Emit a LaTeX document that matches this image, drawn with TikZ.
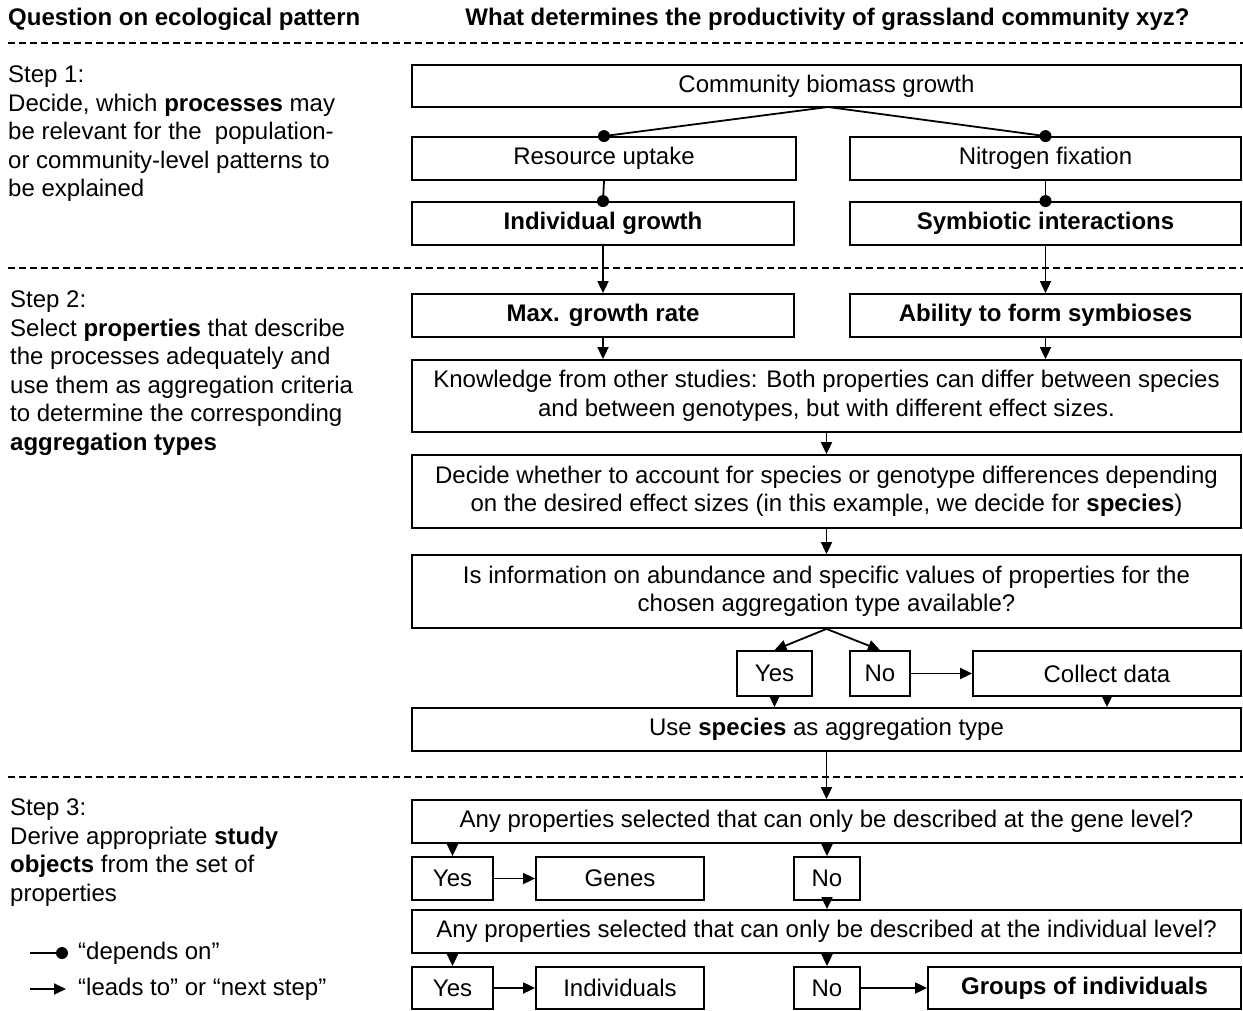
\documentclass[tikz,border=0pt]{standalone}
\usepackage{fontspec}
\setmainfont{Liberation Sans}
\usetikzlibrary{arrows.meta}
\newcommand\fsz{\fontsize{24}{28.5}\selectfont}
\begin{document}
\begin{tikzpicture}[x=1pt,y=-1pt,
  bx/.style={draw, line width=1.8pt, inner sep=0pt, align=center, font=\fsz},
  lefttext/.style={anchor=north west, inner sep=0pt, align=left, font=\fsz},
  arr/.style={line width=1.8pt, -{Triangle[length=12pt,width=11pt]}},
  dep/.style={line width=1.8pt},
  dotc/.style={fill=black},
  sepline/.style={line width=1.3pt, dash pattern=on 7pt off 4pt}]
\useasboundingbox (0,0) rectangle (1243,1011);
\fill[white] (0,0) rectangle (1243,1011);

% headers
\node[anchor=base west, inner sep=0pt, font=\bfseries\fsz] (h1) at (8,26) {Question on ecological pattern};
\node[anchor=base, inner sep=0pt, font=\bfseries\fsz] (h2) at (827.5,26) {What determines the productivity of grassland community xyz?};

% separators
\coordinate (s1a) at (8,43); \coordinate (s1b) at (1243,43);
\coordinate (s2a) at (8,268); \coordinate (s2b) at (1243,268);
\coordinate (s3a) at (8,777); \coordinate (s3b) at (1243,777);
\draw[sepline] (s1a) -- (s1b);
\draw[sepline] (s2a) -- (s2b);
\draw[sepline] (s3a) -- (s3b);

% left texts
\node[lefttext] (t1) at (8,66) {Step 1:\\Decide, which \textbf{processes} may\\be relevant for the \ population-\\or community-level patterns to\\be explained};
\node[lefttext] (t2) at (10,291) {Step 2:\\Select \textbf{properties} that describe\\the processes adequately and\\use them as aggregation criteria\\to determine the corresponding\\\textbf{aggregation types}};
\node[lefttext] (t3) at (10,799) {Step 3:\\Derive appropriate \textbf{study}\\\textbf{objects} from the set of\\properties};

% boxes
\node[bx, minimum width=829pt, minimum height=42pt] (comm) at (826.5,86) {Community biomass growth};
\node[bx, minimum width=384pt, minimum height=43pt] (res) at (604,158.5) {Resource uptake};
\node[bx, minimum width=391pt, minimum height=43pt] (nit) at (1045.5,158.5) {Nitrogen fixation};
\node[bx, minimum width=382pt, minimum height=43pt] (ind) at (603,223.5) {\textbf{Individual growth}};
\node[bx, minimum width=391pt, minimum height=43pt] (sym) at (1045.5,223.5) {\textbf{Symbiotic interactions}};
\node[bx, minimum width=382pt, minimum height=43pt] (maxg) at (603,315.5) {\textbf{Max. growth rate}};
\node[bx, minimum width=391pt, minimum height=43pt] (abil) at (1045.5,315.5) {\textbf{Ability to form symbioses}};
\node[bx, minimum width=829pt, minimum height=72pt] (know) at (826.5,396) {Knowledge from other studies: Both properties can differ between species\\and between genotypes, but with different effect sizes.};
\node[bx, minimum width=829pt, minimum height=73pt] (dec) at (826.5,491.5) {Decide whether to account for species or genotype differences depending\\on the desired effect sizes (in this example, we decide for \textbf{species})};
\node[bx, minimum width=829pt, minimum height=73pt] (info) at (826.5,591.5) {Is information on abundance and specific values of properties for the\\chosen aggregation type available?};
\node[bx, minimum width=75pt, minimum height=45pt] (yes) at (774.5,673.5) {Yes};
\node[bx, minimum width=60pt, minimum height=45pt] (no) at (880,673.5) {No};
\node[bx, minimum width=268pt, minimum height=45pt] (coll) at (1107,673.5) {Collect data};
\node[bx, minimum width=829pt, minimum height=43pt] (use) at (826.5,729.5) {Use \textbf{species} as aggregation type};
\node[bx, minimum width=829pt, minimum height=43pt] (gene) at (826.5,821.5) {Any properties selected that can only be described at the gene level?};
\node[bx, minimum width=81pt, minimum height=43pt] (yes1) at (452.5,878.5) {Yes};
\node[bx, minimum width=168pt, minimum height=43pt] (genes) at (620,878.5) {Genes};
\node[bx, minimum width=66pt, minimum height=43pt] (no1) at (827,878.5) {No};
\node[bx, minimum width=829pt, minimum height=43pt] (indl) at (826.5,931.5) {Any properties selected that can only be described at the individual level?};
\node[bx, minimum width=81pt, minimum height=42pt] (yes2) at (452.5,988) {Yes};
\node[bx, minimum width=168pt, minimum height=42pt] (indv) at (620,988) {Individuals};
\node[bx, minimum width=66pt, minimum height=42pt] (no2) at (827,988) {No};
\node[bx, minimum width=313pt, minimum height=42pt] (grp) at (1084.5,988) {\textbf{Groups of individuals}};

% depends-on connectors
\coordinate (j1) at (828,107);
\draw[dep] (j1) -- (res.north);
\draw[dep] (j1) -- (nit.north);
\draw[dep] (res.south) -- (ind.north);
\draw[dep] (nit.south) -- (sym.north);
\fill[dotc] (res.north) circle[radius=6pt];
\fill[dotc] (nit.north) circle[radius=6pt];
\fill[dotc] (ind.north) circle[radius=6pt];
\fill[dotc] (sym.north) circle[radius=6pt];

% leads-to connectors
\draw[arr] (ind.south) -- (maxg.north);
\draw[arr] (sym.south) -- (abil.north);
\draw[arr] (maxg.south) -- (maxg.south |- know.north);
\draw[arr] (abil.south) -- (abil.south |- know.north);
\draw[arr] (know.south) -- (dec.north);
\draw[arr] (dec.south) -- (info.north);
\draw[arr] (info.south) -- (yes.north);
\draw[arr] (info.south) -- (no.north);
\draw[arr] (no.east) -- (coll.west);
\draw[arr] (yes.south) -- (yes.south |- use.north);
\draw[arr] (coll.south) -- (coll.south |- use.north);
\draw[arr] (use.south) -- (gene.north);
\draw[arr] (yes1.north |- gene.south) -- (yes1.north);
\draw[arr] (no1.north |- gene.south) -- (no1.north);
\draw[arr] (yes1.east) -- (genes.west);
\draw[arr] (no1.south) -- (no1.south |- indl.north);
\draw[arr] (yes2.north |- indl.south) -- (yes2.north);
\draw[arr] (no2.north |- indl.south) -- (no2.north);
\draw[arr] (yes2.east) -- (indv.west);
\draw[arr] (no2.east) -- (grp.west);

% legend
\coordinate (la) at (30,953); \coordinate (lb) at (62,953);
\coordinate (lc) at (30,989); \coordinate (ld) at (66,989);
\draw[dep] (la) -- (lb);
\fill[dotc] (lb) circle[radius=6pt];
\draw[arr] (lc) -- (ld);
\node[anchor=west, inner sep=0pt, font=\fsz] (lt1) at (78,953) {“depends on”};
\node[anchor=west, inner sep=0pt, font=\fsz] (lt2) at (78,989) {“leads to” or “next step”};
\end{tikzpicture}
\end{document}
